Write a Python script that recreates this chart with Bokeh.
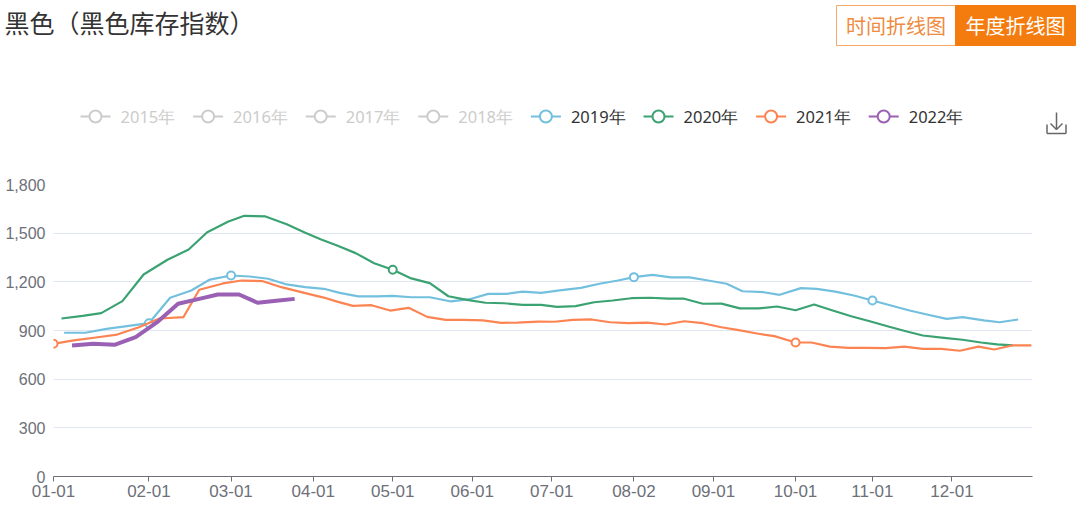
from bokeh.plotting import figure
from bokeh.layouts import column
from bokeh.models import Range1d, FixedTicker, NumeralTickFormatter
from bokeh.core.properties import value
from bokeh.embed import file_html
from bokeh.resources import INLINE

# ---------------- data ----------------
TITLE = "黑色（黑色库存指数）"
BUTTONS = ["时间折线图", "年度折线图"]

TICK_SLOTS = [0, 36, 67, 98, 128, 158, 188, 219, 249, 280, 309, 339]
TICK_LABELS = ["01-01", "02-01", "03-01", "04-01", "05-01", "06-01",
               "07-01", "08-02", "09-01", "10-01", "11-01", "12-01"]
X_END = 369.4
Y_TICKS = [0, 300, 600, 900, 1200, 1500, 1800]

YEARS = ["2015年", "2016年", "2017年", "2018年", "2019年", "2020年", "2021年", "2022年"]
COLORS = ["#5470c6", "#91cc75", "#fac858", "#ee6666", "#73c0de", "#3ba272", "#fc8452", "#9a60b4"]
ACTIVE = [False, False, False, False, True, True, True, True]

X_2015, V_2015, MARK_2015 = [], [], []
X_2016, V_2016, MARK_2016 = [], [], []
X_2017, V_2017, MARK_2017 = [], [], []
X_2018, V_2018, MARK_2018 = [], [], []

X_2019 = [4, 12, 20, 27, 36, 44, 52, 59, 67, 74, 81, 88, 95, 102, 108, 115, 122, 128, 135, 142,
          150, 157, 164, 171, 177, 184, 191, 199, 206, 213, 219, 226, 233, 240, 247, 254, 260,
          268, 274, 282, 288, 295, 302, 309, 316, 323, 330, 337, 343, 351, 357, 364]
V_2019 = [886, 886, 910, 925, 945, 1102, 1147, 1214, 1239, 1233, 1219, 1184, 1167, 1157, 1132,
          1110, 1110, 1114, 1105, 1105, 1079, 1093, 1126, 1126, 1140, 1132, 1147, 1163, 1188,
          1208, 1229, 1243, 1227, 1227, 1208, 1188, 1142, 1136, 1120, 1161, 1157, 1140, 1116,
          1085, 1054, 1023, 997, 972, 982, 962, 951, 968]
MARK_2019 = [4, 8, 30, 43]

X_2020 = [3, 11, 18, 26, 34, 43, 51, 58, 66, 72, 80, 88, 95, 101, 107, 114, 121, 128, 135, 142,
          149, 156, 163, 170, 177, 184, 190, 197, 204, 211, 218, 225, 232, 238, 245, 252, 259,
          266, 273, 280, 287, 294, 301, 308, 315, 322, 328, 336, 343, 350, 356, 362]
V_2020 = [974, 990, 1007, 1081, 1245, 1336, 1399, 1506, 1572, 1607, 1603, 1555, 1502, 1461, 1424,
          1377, 1315, 1274, 1221, 1192, 1111, 1089, 1071, 1068, 1058, 1058, 1046, 1050, 1074,
          1085, 1099, 1102, 1096, 1096, 1065, 1066, 1036, 1036, 1048, 1025, 1060, 1023, 988,
          957, 925, 894, 869, 855, 843, 826, 814, 808]
MARK_2020 = [17]

X_2021 = [0, 7, 16, 24, 32, 40, 49, 55, 64, 71, 79, 86, 95, 102, 107, 113, 120, 127, 134, 141,
          148, 155, 162, 169, 175, 183, 189, 196, 203, 210, 217, 224, 231, 238, 245, 252, 258,
          266, 272, 280, 286, 293, 300, 307, 314, 321, 328, 335, 342, 349, 355, 362, 369]
V_2021 = [818, 838, 857, 875, 918, 974, 982, 1151, 1190, 1208, 1204, 1167, 1130, 1103, 1078,
          1052, 1056, 1023, 1040, 984, 966, 966, 962, 947, 949, 955, 954, 966, 968, 951, 945,
          949, 937, 957, 945, 920, 904, 880, 865, 826, 826, 801, 793, 793, 791, 801, 787, 787,
          775, 801, 783, 809, 808]
MARK_2021 = [0, 39]

X_2022 = [7, 15, 23, 31, 39, 47, 55, 62, 70, 77, 85, 91]
V_2022 = [808, 818, 812, 859, 950, 1065, 1095, 1122, 1122, 1071, 1085, 1095]
MARK_2022 = []

SERIES = [
    (X_2015, V_2015, MARK_2015), (X_2016, V_2016, MARK_2016),
    (X_2017, V_2017, MARK_2017), (X_2018, V_2018, MARK_2018),
    (X_2019, V_2019, MARK_2019), (X_2020, V_2020, MARK_2020),
    (X_2021, V_2021, MARK_2021), (X_2022, V_2022, MARK_2022),
]
WIDTHS = [2.2, 2.2, 2.2, 2.2, 2.2, 2.2, 2.2, 4]

# ---------------- layout constants (pixels) ----------------
FULL_W = 1080
HDR_H = 140                       # header rows: title/buttons, legend
CH_B = 510                        # chart ends at y 510
FRAME_L, FRAME_R, FRAME_T, FRAME_B = 53, 1032, 184, 476

AX = "#6E7079"
NUM_FONT = "Noto Sans"
AXIS_FONT = "Liberation Sans"
CJK_FONT = "Noto Sans CJK SC"
GRAY = "#cccccc"
ORANGE = "#f47c0e"

# ---------------- header (title, buttons, legend, icon) ----------------
hdr = figure(width=FULL_W, height=HDR_H, output_backend="svg", toolbar_location=None,
             x_range=Range1d(0, FULL_W), y_range=Range1d(HDR_H, 0),
             x_axis_type=None, y_axis_type=None, min_border=0)
hdr.frame_align = False
hdr.outline_line_color = None
hdr.background_fill_color = "white"
hdr.border_fill_color = "white"

hdr.text(x=[4], y=[21], text=[TITLE], text_font=value(CJK_FONT), text_font_size=value("25px"),
         text_color="#333333", text_baseline="middle", text_align="left")

# buttons
hdr.quad(left=[836], right=[955], top=[5], bottom=[45], fill_color="white",
         line_color="#f5a868", line_width=1)
hdr.quad(left=[955], right=[1075], top=[5], bottom=[45], fill_color=ORANGE,
         line_color=ORANGE, line_width=1)
hdr.text(x=[895.5], y=[25], text=[BUTTONS[0]], text_font=value(CJK_FONT),
         text_font_size=value("20px"), text_color="#ef8a3e",
         text_align="center", text_baseline="middle")
hdr.text(x=[1015], y=[25], text=[BUTTONS[1]], text_font=value(CJK_FONT),
         text_font_size=value("20px"), text_color="white",
         text_align="center", text_baseline="middle")

# legend
LEG_Y = 116
for i, name in enumerate(YEARS):
    cx = 95 + 112.6 * i
    col = COLORS[i] if ACTIVE[i] else GRAY
    tcol = "#333333" if ACTIVE[i] else GRAY
    hdr.segment(x0=[cx - 15], y0=[LEG_Y], x1=[cx + 15], y1=[LEG_Y], line_color=col, line_width=2)
    hdr.scatter(x=[cx], y=[LEG_Y], marker="circle", size=12, fill_color="white",
                line_color=col, line_width=2)
    hdr.text(x=[cx + 25], y=[LEG_Y], text=[name], text_font=value(NUM_FONT),
             text_font_size=value("16.5px"), text_color=tcol, text_baseline="middle")

# download icon
ICON = "#666666"
icx = 1056
hdr.segment(x0=[icx, icx - 6, icx + 6, icx - 9.5, icx - 9.5, icx + 9.5],
            y0=[112, 123, 123, 124, 133, 133],
            x1=[icx, icx, icx, icx - 9.5, icx + 9.5, icx + 9.5],
            y1=[129, 129, 129, 133, 133, 124],
            line_color=ICON, line_width=1.5)

# ---------------- chart ----------------
p = figure(width=FULL_W, height=CH_B - HDR_H, output_backend="svg", toolbar_location=None,
           x_range=Range1d(0, X_END), y_range=Range1d(0, 1800),
           min_border_left=FRAME_L, min_border_right=FULL_W - FRAME_R,
           min_border_top=FRAME_T - HDR_H, min_border_bottom=CH_B - FRAME_B)
p.frame_align = False
p.outline_line_color = None
p.background_fill_color = "white"
p.border_fill_color = "white"

p.xaxis.ticker = FixedTicker(ticks=TICK_SLOTS)
p.xaxis.major_label_overrides = {t: l for t, l in zip(TICK_SLOTS, TICK_LABELS)}
p.xaxis.axis_line_color = AX
p.xaxis.major_tick_line_color = AX
p.xaxis.major_tick_in = 0
p.xaxis.major_tick_out = 5
p.xaxis.minor_tick_line_color = None
p.xaxis.major_label_text_color = AX
p.xaxis.major_label_text_font = AXIS_FONT
p.xaxis.major_label_text_font_size = "17px"
p.xaxis.major_label_standoff = 3

p.yaxis.ticker = FixedTicker(ticks=Y_TICKS)
p.yaxis.formatter = NumeralTickFormatter(format="0,0")
p.yaxis.axis_line_color = None
p.yaxis.major_tick_line_color = None
p.yaxis.major_tick_out = 0
p.yaxis.major_tick_in = 0
p.yaxis.minor_tick_line_color = None
p.yaxis.major_label_text_color = AX
p.yaxis.major_label_text_font = AXIS_FONT
p.yaxis.major_label_text_font_size = "16px"
p.yaxis.major_label_standoff = 8

p.xgrid.visible = False
p.ygrid.ticker = FixedTicker(ticks=Y_TICKS)
p.ygrid.grid_line_color = "#E0E6F1"
p.ygrid.grid_line_width = 1

for i, (xs, vs, marks) in enumerate(SERIES):
    if not xs:
        continue
    col = COLORS[i]
    p.line(xs, vs, line_color=col, line_width=WIDTHS[i], line_join="round")
    if marks:
        p.scatter([xs[k] for k in marks], [vs[k] for k in marks], marker="circle", size=8,
                  fill_color="white", line_color=col, line_width=2)

layout = column(hdr, p)
open("out.html", "w").write(file_html(layout, INLINE))
